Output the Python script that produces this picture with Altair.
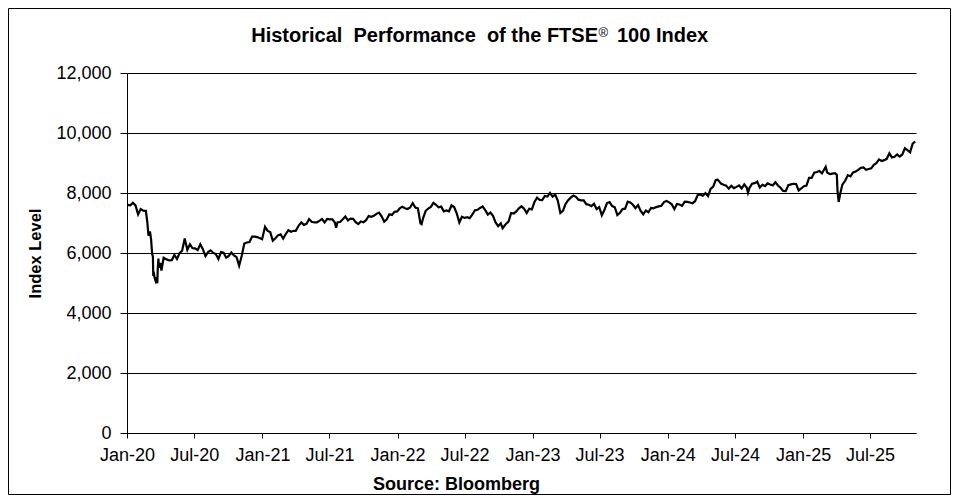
import altair as alt
import pandas as pd

# FTSE 100 closing levels, roughly weekly.
dates_2020 = ["2020-01-02", "2020-01-10", "2020-01-17", "2020-01-24", "2020-01-31", "2020-02-07",
              "2020-02-14", "2020-02-21", "2020-02-25", "2020-02-28", "2020-03-03", "2020-03-06",
              "2020-03-09", "2020-03-11", "2020-03-12", "2020-03-13", "2020-03-16", "2020-03-18",
              "2020-03-20", "2020-03-23", "2020-03-24", "2020-03-26", "2020-03-27", "2020-03-31",
              "2020-04-03", "2020-04-09", "2020-04-17", "2020-04-24", "2020-05-01", "2020-05-08",
              "2020-05-15", "2020-05-22", "2020-05-29", "2020-06-05", "2020-06-12", "2020-06-19",
              "2020-06-26", "2020-07-03", "2020-07-10", "2020-07-17", "2020-07-24", "2020-07-31",
              "2020-08-07", "2020-08-14", "2020-08-21", "2020-08-28", "2020-09-04", "2020-09-11",
              "2020-09-18", "2020-09-25", "2020-10-02", "2020-10-09", "2020-10-16", "2020-10-23",
              "2020-10-30", "2020-11-06", "2020-11-13", "2020-11-20", "2020-11-27", "2020-12-04",
              "2020-12-11", "2020-12-18", "2020-12-24", "2020-12-31"]
levels_2020 = [7604, 7588, 7675, 7586, 7286, 7466,
               7409, 7404, 7018, 6581, 6718, 6463,
               5965, 5876, 5237, 5366, 5151, 5080,
               5191, 4994, 5446, 5816, 5510, 5672,
               5416, 5843, 5787, 5752, 5763, 5936,
               5800, 5993, 6077, 6484, 6105, 6293,
               6159, 6157, 6095, 6290, 6123, 5898,
               6032, 6090, 6002, 5964, 5800, 6032,
               6007, 5843, 5902, 6017, 5920, 5860,
               5577, 5910, 6316, 6351, 6367, 6550,
               6547, 6529, 6502, 6461]

dates_2021 = ["2021-01-08", "2021-01-15", "2021-01-22", "2021-01-29", "2021-02-05", "2021-02-12",
              "2021-02-19", "2021-02-26", "2021-03-05", "2021-03-12", "2021-03-19", "2021-03-26",
              "2021-04-01", "2021-04-09", "2021-04-16", "2021-04-23", "2021-04-30", "2021-05-07",
              "2021-05-14", "2021-05-21", "2021-05-28", "2021-06-04", "2021-06-11", "2021-06-18",
              "2021-06-25", "2021-07-02", "2021-07-09", "2021-07-16", "2021-07-19", "2021-07-23",
              "2021-07-30", "2021-08-06", "2021-08-13", "2021-08-20", "2021-08-27", "2021-09-03",
              "2021-09-10", "2021-09-17", "2021-09-24", "2021-10-01", "2021-10-08", "2021-10-15",
              "2021-10-22", "2021-10-29", "2021-11-05", "2021-11-12", "2021-11-19", "2021-11-26",
              "2021-12-03", "2021-12-10", "2021-12-17", "2021-12-24", "2021-12-31"]
levels_2021 = [6873, 6736, 6696, 6407, 6489, 6589,
               6624, 6483, 6631, 6761, 6709, 6741,
               6737, 6916, 7020, 6938, 6970, 7130,
               7044, 7018, 7023, 7069, 7134, 7017,
               7136, 7123, 7122, 7009, 6844, 7027,
               7032, 7123, 7218, 7088, 7148, 7138,
               7029, 6963, 7051, 7027, 7095, 7234,
               7205, 7238, 7304, 7348, 7224, 7044,
               7122, 7292, 7270, 7372, 7385]

dates_2022 = ["2022-01-07", "2022-01-14", "2022-01-21", "2022-01-28", "2022-02-04", "2022-02-11",
              "2022-02-18", "2022-02-25", "2022-03-04", "2022-03-07", "2022-03-11", "2022-03-18",
              "2022-03-25", "2022-04-01", "2022-04-08", "2022-04-14", "2022-04-22", "2022-04-29",
              "2022-05-06", "2022-05-13", "2022-05-20", "2022-05-27", "2022-06-03", "2022-06-10",
              "2022-06-17", "2022-06-24", "2022-07-01", "2022-07-08", "2022-07-15", "2022-07-22",
              "2022-07-29", "2022-08-05", "2022-08-12", "2022-08-19", "2022-08-26", "2022-09-02",
              "2022-09-09", "2022-09-16", "2022-09-23", "2022-09-30", "2022-10-07", "2022-10-12",
              "2022-10-14", "2022-10-21", "2022-10-28", "2022-11-04", "2022-11-11", "2022-11-18",
              "2022-11-25", "2022-12-02", "2022-12-09", "2022-12-16", "2022-12-23", "2022-12-30"]
levels_2022 = [7485, 7543, 7494, 7466, 7516, 7661,
               7514, 7489, 6987, 6959, 7156, 7405,
               7483, 7538, 7670, 7616, 7522, 7545,
               7388, 7418, 7390, 7585, 7533, 7318,
               7016, 7209, 7169, 7196, 7159, 7276,
               7423, 7440, 7501, 7551, 7427, 7281,
               7351, 7237, 7019, 6894, 6991, 6826,
               6858, 6970, 7048, 7335, 7318, 7385,
               7487, 7556, 7476, 7332, 7474, 7452]

dates_2023 = ["2023-01-06", "2023-01-13", "2023-01-20", "2023-01-27", "2023-02-03", "2023-02-10",
              "2023-02-17", "2023-02-24", "2023-03-03", "2023-03-10", "2023-03-17", "2023-03-24",
              "2023-03-31", "2023-04-06", "2023-04-14", "2023-04-21", "2023-04-28", "2023-05-05",
              "2023-05-12", "2023-05-19", "2023-05-26", "2023-06-02", "2023-06-09", "2023-06-16",
              "2023-06-23", "2023-06-30", "2023-07-07", "2023-07-14", "2023-07-21", "2023-07-28",
              "2023-08-04", "2023-08-11", "2023-08-18", "2023-08-25", "2023-09-01", "2023-09-08",
              "2023-09-15", "2023-09-22", "2023-09-29", "2023-10-06", "2023-10-13", "2023-10-20",
              "2023-10-27", "2023-11-03", "2023-11-10", "2023-11-17", "2023-11-24", "2023-12-01",
              "2023-12-08", "2023-12-15", "2023-12-22", "2023-12-29"]
levels_2023 = [7699, 7844, 7771, 7765, 7902, 7882,
               8004, 7879, 7947, 7748, 7335, 7405,
               7632, 7742, 7844, 7914, 7871, 7778,
               7754, 7756, 7627, 7607, 7562, 7643,
               7462, 7532, 7257, 7434, 7664, 7694,
               7564, 7524, 7262, 7338, 7465, 7478,
               7711, 7684, 7608, 7495, 7599, 7402,
               7291, 7417, 7360, 7504, 7488, 7529,
               7554, 7576, 7698, 7733]

dates_2024 = ["2024-01-05", "2024-01-12", "2024-01-19", "2024-01-26", "2024-02-02", "2024-02-09",
              "2024-02-16", "2024-02-23", "2024-03-01", "2024-03-08", "2024-03-15", "2024-03-22",
              "2024-03-28", "2024-04-05", "2024-04-12", "2024-04-19", "2024-04-26", "2024-05-03",
              "2024-05-10", "2024-05-15", "2024-05-17", "2024-05-24", "2024-05-31", "2024-06-07",
              "2024-06-14", "2024-06-21", "2024-06-28", "2024-07-05", "2024-07-12", "2024-07-19",
              "2024-07-26", "2024-08-02", "2024-08-05", "2024-08-09", "2024-08-16", "2024-08-23",
              "2024-08-30", "2024-09-06", "2024-09-13", "2024-09-20", "2024-09-27", "2024-10-04",
              "2024-10-11", "2024-10-18", "2024-10-25", "2024-11-01", "2024-11-08", "2024-11-15",
              "2024-11-22", "2024-11-29", "2024-12-06", "2024-12-13", "2024-12-20", "2024-12-27"]
levels_2024 = [7689, 7625, 7462, 7635, 7615, 7573,
               7711, 7706, 7682, 7660, 7727, 7931,
               7952, 7911, 7996, 7896, 8139, 8213,
               8433, 8446, 8420, 8317, 8275, 8245,
               8146, 8238, 8164, 8204, 8253, 8155,
               8285, 8175, 8008, 8168, 8311, 8327,
               8377, 8181, 8273, 8230, 8320, 8281,
               8254, 8358, 8249, 8177, 8072, 8064,
               8262, 8287, 8308, 8300, 8085, 8150]

dates_2025 = ["2025-01-03", "2025-01-10", "2025-01-17", "2025-01-24", "2025-01-31", "2025-02-07",
              "2025-02-14", "2025-02-21", "2025-02-28", "2025-03-03", "2025-03-07", "2025-03-14",
              "2025-03-21", "2025-03-28", "2025-04-02", "2025-04-04", "2025-04-07", "2025-04-11",
              "2025-04-17", "2025-04-25", "2025-05-02", "2025-05-09", "2025-05-16", "2025-05-23",
              "2025-05-30", "2025-06-06", "2025-06-13", "2025-06-20", "2025-06-27", "2025-07-04",
              "2025-07-11", "2025-07-18", "2025-07-25", "2025-08-01", "2025-08-08", "2025-08-15",
              "2025-08-22", "2025-08-29", "2025-09-05", "2025-09-12", "2025-09-19", "2025-09-26",
              "2025-10-03", "2025-10-10", "2025-10-17", "2025-10-24", "2025-10-31"]
levels_2025 = [8224, 8248, 8505, 8502, 8674, 8700,
               8732, 8659, 8810, 8871, 8680, 8632,
               8647, 8659, 8608, 8055, 7702, 7964,
               8276, 8415, 8596, 8554, 8684, 8718,
               8772, 8837, 8851, 8775, 8799, 8823,
               8941, 8992, 9120, 9068, 9096, 9139,
               9321, 9187, 9208, 9283, 9216, 9285,
               9491, 9427, 9354, 9646, 9717]

x_ticks = ["2020-01", "2020-07", "2021-01", "2021-07", "2022-01", "2022-07",
           "2023-01", "2023-07", "2024-01", "2024-07", "2025-01", "2025-07"]

font = "Liberation Sans"
nb = "\u00a0"  # keeps the double spaces of the title

df = pd.DataFrame({
    "date": dates_2020 + dates_2021 + dates_2022 + dates_2023 + dates_2024 + dates_2025,
    "level": levels_2020 + levels_2021 + levels_2022 + levels_2023 + levels_2024 + levels_2025,
})

def utc_day(s):
    y, m = s.split("-")[:2]
    return alt.DateTime(year=int(y), month=int(m), date=1, utc=True)

W, H = 789, 360

# Main line of the index.
line = alt.Chart(df).mark_line(color="black", strokeWidth=2.2).encode(
    x=alt.X("date:T",
            scale=alt.Scale(type="utc",
                            domain=[alt.DateTime(year=2020, month=1, date=1, utc=True),
                                    alt.DateTime(year=2025, month=11, date=2, utc=True)]),
            axis=alt.Axis(values=[utc_day(t) for t in x_ticks], format="%b-%y",
                          grid=False, tickSize=5, labelPadding=8,
                          title="Source: Bloomberg", titleX=329, titleY=56,
                          titleAlign="center", titleBaseline="alphabetic")),
    y=alt.Y("level:Q",
            scale=alt.Scale(domain=[0, 12000]),
            axis=alt.Axis(values=list(range(0, 12001, 2000)), format=",d",
                          grid=True, tickSize=7, labelPadding=9,
                          title="Index Level", titleX=-92, titleY=180,
                          titleAngle=-90, titleAlign="center", titleBaseline="middle")),
)

one = pd.DataFrame({"k": [0]})

# Title with a raised registered sign.
title_a = alt.Chart(one).mark_text(text="Historical" + nb * 2 + "Performance" + nb * 2 + "of the FTSE",
                                    font=font, fontSize=20, fontWeight="bold", align="right",
                                    baseline="alphabetic").encode(
    x=alt.value(471), y=alt.value(-31))
title_b = alt.Chart(one).mark_text(text="®", font=font, fontSize=13,
                                    align="left", baseline="alphabetic").encode(
    x=alt.value(471.5), y=alt.value(-36))
title_c = alt.Chart(one).mark_text(text="100 Index", font=font, fontSize=20,
                                    fontWeight="bold", align="left",
                                    baseline="alphabetic").encode(
    x=alt.value(490), y=alt.value(-31))

# Outer frame round the whole picture.
frame = alt.Chart(one).mark_rect(fill=None, stroke="black", strokeWidth=1).encode(
    x=alt.value(-118.5), x2=alt.value(W + 34.5), y=alt.value(-64.5), y2=alt.value(H + 61.5))

chart = alt.layer(frame, line, title_a, title_b, title_c).properties(
    width=W, height=H,
    padding={"left": 119, "top": 65, "right": 35, "bottom": 62},
    autosize=alt.AutoSizeParams(type="none"),
).configure_view(stroke=None).configure_axis(
    domainColor="black", tickColor="black", gridColor="black", gridWidth=1,
    labelColor="black", labelFont=font, labelFontSize=18,
    titleColor="black", titleFont=font, titleFontSize=16.5, titleFontWeight="bold",
    labelFlush=False,
).configure_axisX(titleFontSize=18)

chart.save("out.html", embed_options={"renderer": "svg", "actions": False})
